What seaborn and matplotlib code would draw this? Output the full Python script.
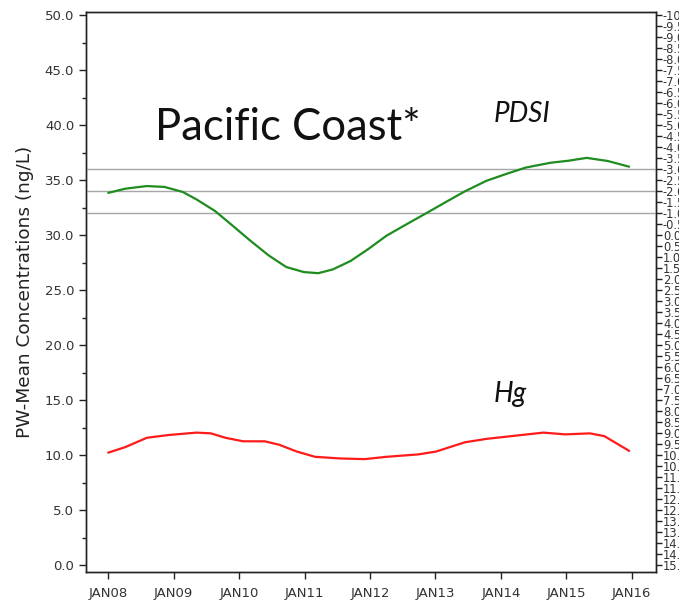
import matplotlib
matplotlib.use("Agg")
import matplotlib.pyplot as plt
import seaborn as sns
import numpy as np
import pandas as pd
from matplotlib.ticker import MultipleLocator, FixedLocator, FuncFormatter

# ---- data ----
pdsi_year = [2008.00, 2008.26, 2008.59, 2008.86, 2009.14, 2009.35, 2009.63, 2009.90,
             2010.17, 2010.45, 2010.72, 2010.99, 2011.21, 2011.43, 2011.70, 2011.98,
             2012.25, 2012.52, 2012.85, 2013.18, 2013.45, 2013.78, 2014.11, 2014.38,
             2014.76, 2015.03, 2015.31, 2015.63, 2015.96]
pdsi_value = [-1.93, -2.12, -2.24, -2.20, -1.97, -1.63, -1.11, -0.44,
              0.24, 0.91, 1.44, 1.67, 1.72, 1.55, 1.17, 0.61,
              0.02, -0.44, -0.99, -1.55, -2.00, -2.48, -2.82, -3.08,
              -3.30, -3.39, -3.52, -3.38, -3.12]

hg_year = [2008.00, 2008.26, 2008.59, 2008.92, 2009.35, 2009.57, 2009.79, 2010.06,
           2010.39, 2010.61, 2010.88, 2011.16, 2011.54, 2011.92, 2012.25, 2012.74,
           2013.01, 2013.45, 2013.78, 2014.16, 2014.65, 2014.98, 2015.36, 2015.58,
           2015.96]
hg_value = [10.25, 10.75, 11.60, 11.85, 12.07, 12.00, 11.60, 11.28,
            11.28, 10.97, 10.35, 9.87, 9.72, 9.66, 9.87, 10.09,
            10.35, 11.19, 11.50, 11.75, 12.07, 11.91, 12.00, 11.75,
            10.41]

pdsi_ref_lines = [-3.0, -2.0, -1.0]
x_tick_years = [2008, 2009, 2010, 2011, 2012, 2013, 2014, 2015, 2016]
x_tick_labels = ["JAN08", "JAN09", "JAN10", "JAN11", "JAN12", "JAN13", "JAN14", "JAN15", "JAN16"]

pdsi_df = pd.DataFrame({"year": pdsi_year, "pdsi": pdsi_value})
hg_df = pd.DataFrame({"year": hg_year, "hg": hg_value})

# ---- figure ----
sns.set_style("ticks")
plt.rcParams["font.family"] = ["DejaVu Sans"]

fig = plt.figure(figsize=(6.79, 6.02), dpi=100)
ax = fig.add_axes([86 / 679, 1 - 572 / 602, (656 - 86) / 679, (572 - 12) / 602])
ax2 = ax.twinx()

label_color = "#333333"
tick_fs = 9.5

# left axis: Hg
sns.lineplot(data=hg_df, x="year", y="hg", ax=ax, color="#ff1a1a", linewidth=1.6)
ax.set_ylim(-0.6, 50.3)
ax.yaxis.set_major_locator(MultipleLocator(5))
ax.yaxis.set_minor_locator(MultipleLocator(2.5))
ax.yaxis.set_major_formatter(FuncFormatter(lambda v, p: f"{v:.1f}"))
ax.set_xlim(2007.66, 2016.37)
ax.set_xticks(x_tick_years)
ax.set_xticklabels(x_tick_labels)
ax.set_ylabel("PW-Mean Concentrations (ng/L)", fontsize=13.3, color="#222222", labelpad=8)
ax.set_xlabel("")
ax.tick_params(axis="both", labelsize=tick_fs, labelcolor=label_color, direction="out",
               length=5, width=1, color="#222222")
ax.tick_params(axis="y", which="minor", length=3, width=1, color="#222222")
ax.tick_params(axis="x", pad=6)

# right axis: PDSI (inverted)
sns.lineplot(data=pdsi_df, x="year", y="pdsi", ax=ax2, color="#1e8c1e", linewidth=1.6)
ax2.set_ylim(15 + 0.6 / 2, 15 - 50.3 / 2)
ax2.yaxis.set_major_locator(MultipleLocator(0.5))
ax2.yaxis.set_major_formatter(FuncFormatter(lambda v, p: f"{v:.1f}"))
ax2.set_ylabel("")
ax2.tick_params(axis="y", labelsize=8.3, labelcolor=label_color, direction="out",
                length=4, width=1, color="#222222", pad=1)
for v in pdsi_ref_lines:
    ax2.axhline(v, color="#a6a6a6", linewidth=1.0, zorder=0)

for a in (ax, ax2):
    for s in a.spines.values():
        s.set_visible(True)
        s.set_color("#222222")
        s.set_linewidth(1.0)

# annotations
fig.text(155 / 679, 1 - 140 / 602, "Pacific Coast*", fontsize=31.4, family="Lato",
         color="#111111", ha="left", va="baseline")
fig.text(494 / 679, 1 - 122 / 602, "PDSI", fontsize=20, family="Lato", style="italic",
         color="#111111", ha="left", va="baseline")
fig.text(494 / 679, 1 - 402 / 602, "Hg", fontsize=20, family="Lato", style="italic",
         color="#111111", ha="left", va="baseline")

fig.savefig("out.png", dpi=100)
